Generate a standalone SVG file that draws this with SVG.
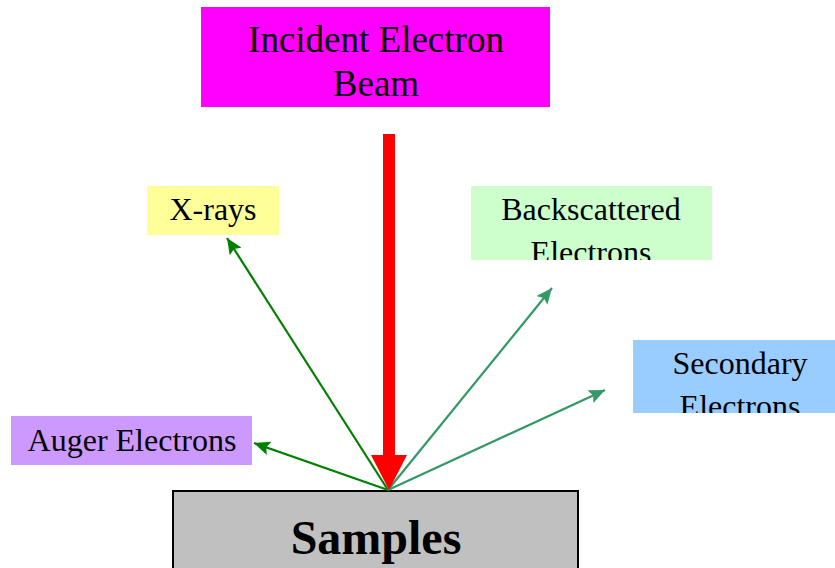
<svg xmlns="http://www.w3.org/2000/svg" width="835" height="568" viewBox="0 0 835 568">
<style>
.t{font-family:"Liberation Serif","Times New Roman",serif;font-size:32px;fill:#000;text-anchor:middle}
.big{font-size:37px}
.bold{font-weight:bold;font-size:48px}
.g{stroke:#008000;stroke-width:2.2;fill:none}
.sg{stroke:#339966;stroke-width:2.2;fill:none}
</style>
<defs>
<marker id="ag" markerUnits="userSpaceOnUse" markerWidth="18" markerHeight="14" refX="16" refY="7" orient="auto"><path d="M0,0 L16,7 L0,14 L3,7 Z" fill="#008000"/></marker>
<marker id="asg" markerUnits="userSpaceOnUse" markerWidth="18" markerHeight="14" refX="16" refY="7" orient="auto"><path d="M0,0 L16,7 L0,14 L3,7 Z" fill="#339966"/></marker>
<clipPath id="cb"><rect x="471" y="186" width="241" height="74"/></clipPath>
<clipPath id="cs"><rect x="633" y="340" width="202" height="73"/></clipPath>
</defs>
<g id="incident">
<rect x="201" y="7" width="349" height="100" fill="#FF00FF"/>
<text class="t big" x="376" y="52">Incident Electron</text>
<text class="t big" x="376" y="96">Beam</text>
</g>
<g id="xrays">
<rect x="147" y="186" width="132" height="49" fill="#FFFF99"/>
<text class="t" x="213" y="220">X-rays</text>
</g>
<g id="backscattered">
<rect x="471" y="186" width="241" height="74" fill="#CCFFCC"/>
<g clip-path="url(#cb)">
<text class="t" x="591" y="220">Backscattered</text>
<text class="t" x="591" y="263">Electrons</text>
</g>
</g>
<g id="secondary">
<rect x="633" y="340" width="202" height="73" fill="#99CCFF"/>
<g clip-path="url(#cs)">
<text class="t" x="740" y="374">Secondary</text>
<text class="t" x="740" y="417">Electrons</text>
</g>
</g>
<g id="auger">
<rect x="11" y="416" width="241" height="49" fill="#CC99FF"/>
<text class="t" x="132" y="451">Auger Electrons</text>
</g>
<g id="samples">
<rect x="173" y="491" width="405" height="90" fill="#C0C0C0" stroke="#000" stroke-width="2"/>
<text class="t bold" x="376" y="554">Samples</text>
</g>
<g id="connectors">
<path class="g" d="M388,490 L227,238" marker-end="url(#ag)"/>
<path class="g" d="M388,490 L254,443" marker-end="url(#ag)"/>
<path class="sg" d="M388,490 L552,288" marker-end="url(#asg)"/>
<path class="sg" d="M388,490 L605,390" marker-end="url(#asg)"/>
<path d="M383,134 H395 V455 H407 L389,490 L371,455 H383 Z" fill="#FF0000"/>
</g>
</svg>
